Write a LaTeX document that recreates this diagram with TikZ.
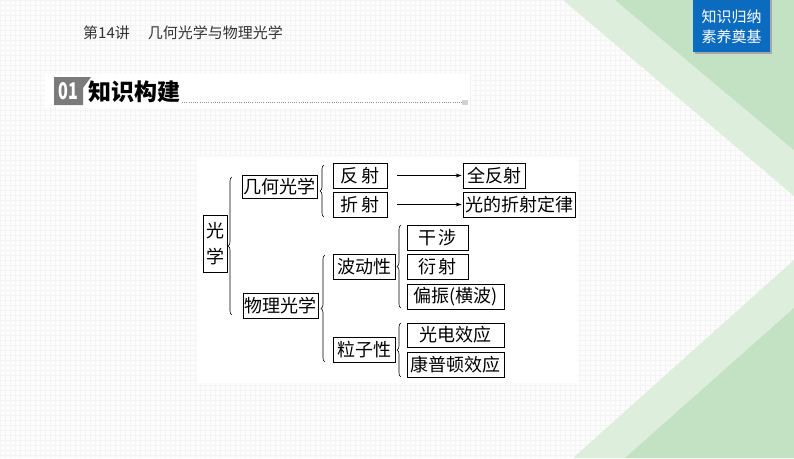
\documentclass[tikz,border=0pt]{standalone}
\usepackage{fontspec}
\newfontfamily\cjk{Noto Sans CJK SC}
\usetikzlibrary{decorations.pathreplacing,arrows.meta,calc}
\definecolor{bandlight}{HTML}{DDEEDC}
\definecolor{banddark}{HTML}{C3E1C3}
\definecolor{bluebox}{HTML}{0B6BBE}
\definecolor{badgegray}{HTML}{7B7B7B}
\definecolor{gridgray}{HTML}{F4F4F4}
\definecolor{headgray}{HTML}{333333}
\begin{document}
\begin{tikzpicture}[x=1pt,y=-1pt,
  box/.style={draw=black,line width=0.8pt,inner sep=0pt,fill=white,
    font=\cjk\fontsize{18}{20}\selectfont},
  brc/.style={decorate,decoration={brace,amplitude=4pt},line width=0.6pt},
  arr/.style={-{Stealth[length=6pt,width=4pt]},line width=0.6pt}]
\useasboundingbox (0,0) rectangle (794,458);
% background
\fill[white!99!black] (0,0) rectangle (794,458);
\foreach \i in {0,5,...,794} \draw[gridgray,line width=0.4pt] (\i,0) -- (\i,458);
\foreach \j in {0,5,...,458} \draw[gridgray,line width=0.4pt] (0,\j) -- (794,\j);
% green bands
\fill[bandlight] (563,0) -- (794,0) -- (794,196) -- cycle;
\fill[banddark] (615,0) -- (794,0) -- (794,150) -- cycle;
\fill[bandlight] (794,260) -- (794,458) -- (573,458) -- cycle;
\fill[banddark] (794,308) -- (794,458) -- (625,458) -- cycle;
% blue tag
\fill[black!35] (695,0) rectangle (772,54);
\fill[bluebox] (693,0) rectangle (770,52);
\node[text=white,align=center,font=\cjk\fontsize{15}{20}\selectfont] (tag) at (731.5,27) {知识归纳\\素养奠基};
% header
\node[anchor=west,text=headgray,inner sep=0pt,font=\cjk\fontsize{15}{17}\selectfont] (head) at (83,33) {第14讲\hspace{18pt}几何光学与物理光学};
% title bar
\fill[white] (45,74) rectangle (470,108);
\fill[badgegray] (54,77) -- (91,77) -- (83,88) -- (83,105) -- (54,105) -- cycle;
\node[text=white,inner sep=0pt,xscale=0.7,font=\cjk\bfseries\fontsize{23}{24}\selectfont] (num) at (68,91.5) {01};
\node[anchor=west,inner sep=0pt,font=\cjk\bfseries\fontsize{23}{24}\selectfont] (title) at (88,91.5) {知识构建};
\draw[black!45,line width=0.6pt,dash pattern=on 1pt off 1.2pt] (182,102) -- (462,102);
\fill[black!18] (462,100) rectangle (468,105);
% panel
\fill[white] (197,157) rectangle (578,383);
% nodes
\node[box,minimum width=24pt,minimum height=57pt,align=center,font=\cjk\fontsize{18}{26}\selectfont] (guang) at (215,243.5) {光\\学};
\node[box,minimum width=75pt,minimum height=23pt] (jihe) at (279.5,186.5) {几何光学};
\node[box,minimum width=75pt,minimum height=25pt] (wuli) at (280.5,306) {物理光学};
\node[box,minimum width=54pt,minimum height=25pt] (fanshe) at (360,175.5) {反\,射};
\node[box,minimum width=54pt,minimum height=25pt] (zheshe) at (360,204.5) {折\,射};
\node[box,minimum width=62pt,minimum height=25pt] (quan) at (494,175.5) {全反射};
\node[box,minimum width=112pt,minimum height=25pt] (dinglv) at (519,204.5) {光的折射定律};
\node[box,minimum width=62pt,minimum height=25pt] (bodong) at (364,266.5) {波动性};
\node[box,minimum width=62pt,minimum height=25pt] (lizi) at (364,349.5) {粒子性};
\node[box,minimum width=61pt,minimum height=25pt] (ganshe) at (437.5,237.5) {干\,涉};
\node[box,minimum width=61pt,minimum height=25pt] (yanshe) at (437.5,266.5) {衍\,射};
\node[box,minimum width=97pt,minimum height=25pt] (pian) at (455.5,296.5) {偏振(横波)};
\node[box,minimum width=97pt,minimum height=24pt] (gdxy) at (455.5,335) {光电效应};
\node[box,minimum width=97pt,minimum height=25pt] (kpd) at (455.5,364.5) {康普顿效应};
% braces
\coordinate (b1s) at (232,315); \coordinate (b1e) at (232,177);
\coordinate (b2s) at (324,217); \coordinate (b2e) at (324,165);
\coordinate (b3s) at (325,362); \coordinate (b3e) at (325,255);
\coordinate (b4s) at (401,308); \coordinate (b4e) at (401,225);
\coordinate (b5s) at (401,377); \coordinate (b5e) at (401,323);
\draw[brc] (b1s) -- (b1e);
\draw[brc] (b2s) -- (b2e);
\draw[brc] (b3s) -- (b3e);
\draw[brc] (b4s) -- (b4e);
\draw[brc] (b5s) -- (b5e);
% arrows
\draw[arr,shorten <=10pt,shorten >=1pt] (fanshe.east) -- (quan.west);
\draw[arr,shorten <=10pt,shorten >=1pt] (zheshe.east) -- (dinglv.west);
\end{tikzpicture}
\end{document}
